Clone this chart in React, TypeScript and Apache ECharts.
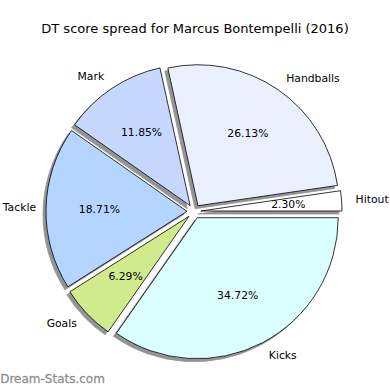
import React, { useEffect, useRef } from "react";
import * as echarts from "echarts";

const labels = ["Hitout", "Handballs", "Mark", "Tackle", "Goals", "Kicks"];
const percents = [2.3, 26.13, 11.85, 18.71, 6.29, 34.72];
const colors = ["#ffffff", "#eaf0ff", "#c6d8ff", "#b3d5ff", "#d0eb8b", "#dcffff"];
const titleText = "DT score spread for Marcus Bontempelli (2016)";
const watermark = "Dream-Stats.com";

const FONT = "DejaVu Sans";

export default function App() {
  const ref = useRef<HTMLDivElement>(null);
  useEffect(() => {
    if (!ref.current) return;
    const chart = echarts.init(ref.current, undefined, { renderer: "svg" });
    const cx = 194;
    const cy = 211.5;
    const R = 141;
    const offset = 7;

    const slices = labels.map((name, i) => ({
      name,
      value: percents[i],
      selected: true,
      itemStyle: { color: colors[i] },
      labelLine: name === "Tackle" ? { length: 10 } : undefined,
    }));
    const ghost = labels.map((name, i) => ({
      name,
      value: percents[i],
      selected: true,
    }));

    const common = {
      type: "pie" as const,
      center: [cx, cy],
      startAngle: 0,
      clockwise: false,
      selectedMode: "multiple" as const,
      selectedOffset: offset,
      avoidLabelOverlap: false,
      minAngle: 0,
      silent: true,
      emphasis: { disabled: true },
    };

    chart.setOption({
      animation: false,
      title: {
        text: titleText,
        left: "center",
        top: 17,
        textStyle: { fontFamily: FONT, fontSize: 13, fontWeight: "normal", color: "#000" },
      },
      graphic: [
        {
          type: "text",
          left: 0,
          top: 373,
          style: {
            text: watermark,
            fontFamily: FONT,
            fontSize: 12,
            fontWeight: "normal",
            fill: "#8c8c8c",
            stroke: "#a6a6a6",
            lineWidth: 0.3,
          },
        },
      ],
      series: [
        {
          ...common,
          radius: [0, R],
          data: slices,
          itemStyle: {
            borderColor: "#000",
            borderWidth: 0.8,
            shadowColor: "rgba(0,0,0,0.42)",
            shadowBlur: 0,
            shadowOffsetX: -3,
            shadowOffsetY: 3,
          },
          select: {
            itemStyle: {
              borderColor: "#000",
              borderWidth: 0.8,
              shadowColor: "rgba(0,0,0,0.42)",
              shadowBlur: 0,
              shadowOffsetX: -3,
              shadowOffsetY: 3,
            },
          },
          label: {
            show: true,
            position: "outside",
            formatter: "{b}",
            fontFamily: FONT,
            fontSize: 10.8,
            color: "#000",
            distanceToLabelLine: 0,
          },
          labelLine: { show: false, length: 14, length2: 0 },
        },
        {
          ...common,
          radius: [0, R * 1.2],
          data: ghost,
          itemStyle: { color: "rgba(0,0,0,0)", borderWidth: 0 },
          select: { itemStyle: { color: "rgba(0,0,0,0)", borderWidth: 0 } },
          label: {
            show: true,
            position: "inside",
            formatter: (p: any) => p.value.toFixed(2) + "%",
            fontFamily: FONT,
            fontSize: 10.8,
            color: "#000",
          },
          labelLine: { show: false },
        },
      ],
    });
    return () => chart.dispose();
  }, []);
  return <div ref={ref} style={{ width: 390, height: 390, position: "absolute", left: 0, top: 0 }} />;
}
